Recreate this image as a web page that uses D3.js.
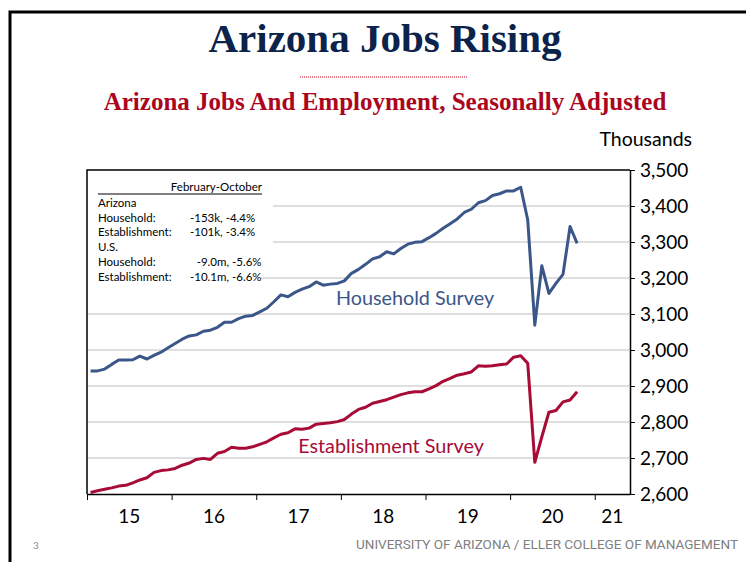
<!DOCTYPE html>
<html>
<head>
<meta charset="utf-8">
<script src="https://cdn.jsdelivr.net/npm/d3@7"></script>
<style>
body { margin: 0; background: #fff; }
svg text { font-family: Lato, "Open Sans", sans-serif; }
</style>
</head>
<body>
<div id="chart"></div>
<script>
// monthly, Jan 2015 .. Oct 2020, thousands
const household = [2942, 2942, 2947, 2960, 2972, 2972, 2973, 2983, 2975, 2985, 2994, 3006,
  3018, 3030, 3039, 3042, 3052, 3055, 3063, 3077, 3077, 3087, 3094, 3096,
  3106, 3116, 3134, 3153, 3148, 3160, 3169, 3176, 3189, 3180, 3183, 3185,
  3192, 3213, 3224, 3238, 3253, 3259, 3273, 3267, 3282, 3294, 3299, 3301,
  3312, 3324, 3338, 3351, 3364, 3382, 3391, 3409, 3415, 3429, 3434, 3442,
  3442, 3452, 3361, 3069, 3234, 3157, 3185, 3210, 3343, 3296]
const establishment = [2604, 2609, 2613, 2617, 2622, 2624, 2631, 2639, 2645, 2660, 2665, 2667,
  2671, 2680, 2686, 2696, 2699, 2696, 2713, 2718, 2730, 2727, 2727, 2731,
  2738, 2745, 2756, 2766, 2770, 2781, 2780, 2783, 2794, 2796, 2798, 2801,
  2807, 2822, 2835, 2841, 2852, 2857, 2862, 2869, 2876, 2881, 2884, 2884,
  2892, 2901, 2913, 2921, 2930, 2934, 2939, 2956, 2955, 2956, 2959, 2961,
  2980, 2984, 2963, 2688, 2759, 2827, 2832, 2856, 2861, 2884]
const yearLabels = ["15", "16", "17", "18", "19", "20", "21"]
const yTicks = [2600, 2700, 2800, 2900, 3000, 3100, 3200, 3300, 3400, 3500]
const axisMonths = 77   // Jan 2015 .. May 2021 on the category axis
const boxTitle = "February-October"
const boxLabels = ["Arizona", "Household:", "Establishment:", "U.S.", "Household:", "Establishment:"]
const boxValues = ["", "-153k, -4.4%", "-101k, -3.4%", "", "\u2007-9.0m, -5.6%", "-10.1m, -6.6%"]

const blue = "#3b5689"
const red = "#a80c36"

const svg = d3.select("#chart")
  .append("svg")
  .attr("width", 746)
  .attr("height", 562)

// slide frame
svg.append("path")
  .attr("d", "M10,562 V12 H746")
  .attr("fill", "none")
  .attr("stroke", "#000")
  .attr("stroke-width", 3)

svg.append("text")
  .attr("x", 385).attr("y", 52)
  .attr("text-anchor", "middle")
  .style("font-family", "'Liberation Serif', 'Times New Roman', serif")
  .style("font-weight", "bold")
  .style("font-size", "41px")
  .attr("fill", "#0c234b")
  .text("Arizona Jobs Rising")

svg.append("line")
  .attr("x1", 300).attr("x2", 468)
  .attr("y1", 77).attr("y2", 77)
  .attr("stroke", "#c0001a")
  .attr("stroke-width", 1)
  .attr("stroke-dasharray", "1,1")

svg.append("text")
  .attr("x", 385).attr("y", 110)
  .attr("text-anchor", "middle")
  .style("font-family", "'Liberation Serif', 'Times New Roman', serif")
  .style("font-weight", "bold")
  .style("font-size", "25px")
  .attr("fill", "#ab0520")
  .text("Arizona Jobs And Employment, Seasonally Adjusted")

let x = d3.scaleLinear().domain([0, axisMonths]).range([87, 630])
let y = d3.scaleLinear().domain([2600, 3500]).range([494, 170])

// gridlines
svg.append("g")
  .selectAll("line")
  .data(yTicks.slice(1, -1))
  .enter()
  .append("line")
  .attr("x1", x(0)).attr("x2", x(axisMonths))
  .attr("y1", d => y(d)).attr("y2", d => y(d))
  .attr("stroke", "#d4d4d4")
  .attr("stroke-width", 1.3)

// inset text box
let box = svg.append("g")
box.append("rect")
  .attr("x", 88).attr("y", 172)
  .attr("width", 185).attr("height", 100)
  .attr("fill", "#fff")
box.append("rect")
  .attr("x", 88).attr("y", 272)
  .attr("width", 173).attr("height", 12)
  .attr("fill", "#fff")
box.append("text")
  .attr("x", 262).attr("y", 191)
  .attr("text-anchor", "end")
  .style("font-size", "11.5px")
  .text(boxTitle)
box.append("line")
  .attr("x1", 98).attr("x2", 262)
  .attr("y1", 194).attr("y2", 194)
  .attr("stroke", "#000")
  .attr("stroke-width", 1)
box.selectAll("text.lab")
  .data(boxLabels)
  .enter()
  .append("text")
  .attr("class", "lab")
  .attr("x", 98)
  .attr("y", (d, i) => 207 + i * 14.7)
  .style("font-size", "11.5px")
  .text(d => d)
box.selectAll("text.val")
  .data(boxValues)
  .enter()
  .append("text")
  .attr("class", "val")
  .attr("x", 190)
  .attr("y", (d, i) => 207 + i * 14.7)
  .style("font-size", "11.5px")
  .text(d => d)

// series
let line = d3.line()
  .x((d, i) => x(i + 0.5))
  .y(d => y(d))

svg.append("path")
  .datum(household)
  .attr("d", line)
  .attr("fill", "none")
  .attr("stroke", blue)
  .attr("stroke-width", 3)
  .attr("stroke-linejoin", "round")

svg.append("path")
  .datum(establishment)
  .attr("d", line)
  .attr("fill", "none")
  .attr("stroke", red)
  .attr("stroke-width", 3)
  .attr("stroke-linejoin", "round")

svg.append("text")
  .attr("x", 415).attr("y", 305)
  .attr("text-anchor", "middle")
  .style("font-size", "19.8px")
  .attr("fill", blue)
  .text("Household Survey")

svg.append("text")
  .attr("x", 391).attr("y", 453)
  .attr("text-anchor", "middle")
  .style("font-size", "19.8px")
  .attr("fill", red)
  .text("Establishment Survey")

// plot frame (left & top)
svg.append("path")
  .attr("d", `M${x(0)},${y(2600)} V${y(3500)} H${x(axisMonths)}`)
  .attr("fill", "none")
  .attr("stroke", "#000")
  .attr("stroke-width", 1.5)

// y axis on the right
let yAxis = svg.append("g")
  .attr("transform", `translate(${x(axisMonths)},0)`)
  .call(d3.axisRight(y).tickValues(yTicks).tickSize(5).tickSizeOuter(0).tickPadding(5).tickFormat(d3.format(",")))
yAxis.select(".domain").attr("stroke-width", 1.5)
yAxis.selectAll("text")
  .style("font-size", "19px")
  .style("font-family", "Lato, sans-serif")
  .attr("fill", "#000")

svg.append("text")
  .attr("x", 692).attr("y", 146)
  .attr("text-anchor", "end")
  .style("font-size", "19.5px")
  .text("Thousands")

// x axis, year boundaries
let yearStarts = yearLabels.map((d, i) => i * 12)
let xAxis = svg.append("g")
  .attr("transform", `translate(0,${y(2600)})`)
  .call(d3.axisBottom(x).tickValues(yearStarts).tickSize(6).tickSizeOuter(0).tickFormat(""))
xAxis.select(".domain").attr("stroke-width", 1.5)

svg.append("g")
  .selectAll("text")
  .data(yearLabels)
  .enter()
  .append("text")
  .attr("x", (d, i) => (x(i * 12) + x(Math.min(i * 12 + 12, axisMonths))) / 2)
  .attr("y", 523)
  .attr("text-anchor", "middle")
  .style("font-size", "19px")
  .text(d => d)

// footer
svg.append("text")
  .attr("x", 36).attr("y", 549)
  .attr("text-anchor", "middle")
  .style("font-size", "10px")
  .attr("fill", "#8c8c8c")
  .text("3")

svg.append("text")
  .attr("x", 738).attr("y", 549)
  .attr("text-anchor", "end")
  .style("font-family", "'Liberation Sans Narrow', 'Roboto', sans-serif")
  .style("font-size", "13px")
  .attr("fill", "#808080")
  .attr("textLength", 382)
  .attr("lengthAdjust", "spacingAndGlyphs")
  .text("UNIVERSITY OF ARIZONA / ELLER COLLEGE OF MANAGEMENT")
</script>
</body>
</html>
